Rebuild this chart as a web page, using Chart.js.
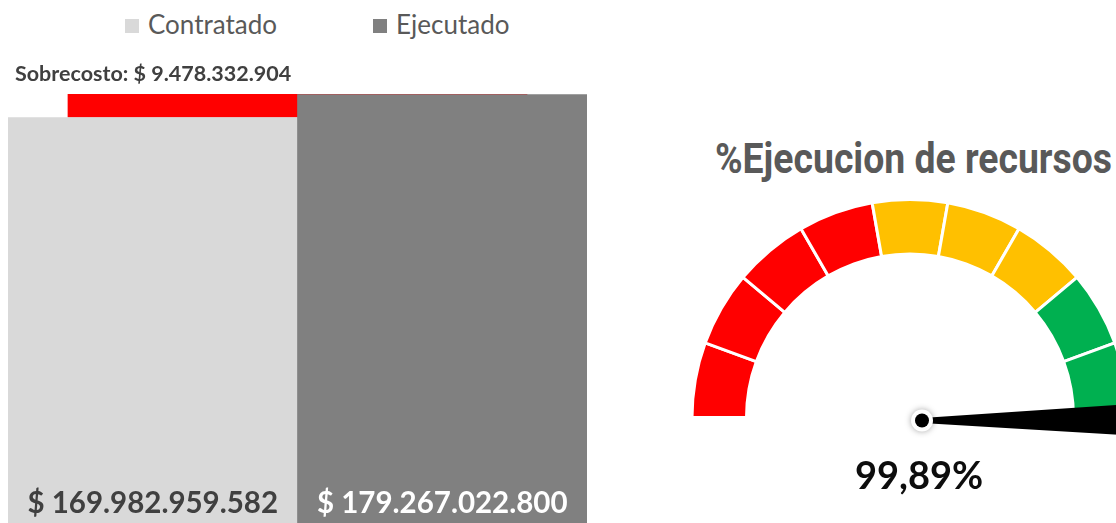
<!DOCTYPE html>
<html>
<head>
<meta charset="utf-8">
<script src="https://cdn.jsdelivr.net/npm/chart.js@4.4.1/dist/chart.umd.min.js"></script>
<style>
  html, body { margin: 0; padding: 0; width: 1116px; height: 523px; overflow: hidden; background: #fff; }
  #barChart { position: absolute; left: 0; top: 0; }
  #gauge { position: absolute; left: 689px; top: 189px; }
  #legend { position: absolute; left: 125px; top: 9px; display: flex; gap: 96px;
            font-family: Lato, sans-serif; font-size: 26px; color: #595959; line-height: 31px; }
  #legend .item { display: flex; align-items: center; }
  #legend .box { width: 14px; height: 14px; margin-right: 9px; margin-top: 2px; }
  #title { position: absolute; left: 715px; top: 138px; font-family: Roboto, sans-serif; font-weight: 700;
           font-size: 42px; line-height: 1; color: #595959; white-space: nowrap; transform-origin: left top; }
</style>
</head>
<body>
<div id="legend"></div>
<canvas id="barChart" width="600" height="545"></canvas>
<div id="title">%Ejecucion de recursos</div>
<canvas id="gauge" width="442" height="330"></canvas>
<script>
// datos
const categorias = ['Contratado', 'Ejecutado'];
const valores = [169982959582, 179267022800];
const sobrecosto = 9478332904;
const coloresBarras = ['#D9D9D9', '#808080'];

const tramos = ['0-20', '20-40', '40-60', '60-80', '80-100', '100-120', '120-140', '140-160', '160-180'];
const tramosValores = [1, 1, 1, 1, 1, 1, 1, 1, 1];
const tramosColores = ['#FF0000', '#FF0000', '#FF0000', '#FF0000', '#FFC000', '#FFC000', '#FFC000', '#00B050', '#00B050'];
const ejecucion = 99.89;

const miles = n => String(n).replace(/\B(?=(\d{3})+(?!\d))/g, '.');
const pct = v => v.toFixed(2).replace('.', ',') + '%';

// etiquetas de las barras
const etiquetasBarras = {
  id: 'etiquetasBarras',
  afterDatasetsDraw(chart) {
    const { ctx, chartArea } = chart;
    const barras = chart.getDatasetMeta(0).data;
    ctx.save();
    ctx.font = 'bold 29.5px Lato';
    ctx.textAlign = 'center';
    ctx.textBaseline = 'middle';
    valores.forEach((v, i) => {
      ctx.fillStyle = i === 0 ? '#404040' : '#FFFFFF';
      ctx.fillText('$ ' + miles(v), barras[i].x, chartArea.bottom - 36);
    });
    const rojo = chart.getDatasetMeta(1).data[0];
    ctx.font = 'bold 21.5px Lato';
    ctx.textAlign = 'left';
    ctx.textBaseline = 'alphabetic';
    ctx.fillStyle = '#404040';
    ctx.fillText('Sobrecosto: $ ' + miles(sobrecosto), chartArea.left + 7, rojo.y - 13);
    ctx.restore();
  }
};

new Chart(document.getElementById('barChart'), {
  type: 'bar',
  data: {
    labels: categorias,
    datasets: [
      { label: 'Valor', data: valores, backgroundColor: coloresBarras, order: 1 },
      { label: 'Sobrecosto', data: [{ x: 1, y: [valores[0], valores[0] + sobrecosto] }],
        backgroundColor: '#FF0000', xAxisID: 'x2', order: 2, barPercentage: 0.794 }
    ]
  },
  options: {
    responsive: false,
    animation: false,
    devicePixelRatio: 1,
    layout: { padding: { left: 8, right: 13, top: 68, bottom: 6 } },
    datasets: { bar: { categoryPercentage: 1, barPercentage: 1, grouped: false } },
    plugins: { legend: { display: false }, tooltip: { enabled: false } },
    scales: {
      x: { display: false },
      x2: { type: 'linear', display: false, position: 'bottom', min: 0, max: 2, offset: false,
            ticks: { stepSize: 2 } },
      y: { display: false, min: 0, max: 190e9 }
    }
  },
  plugins: [etiquetasBarras]
});

// leyenda
const leyenda = document.getElementById('legend');
categorias.forEach((c, i) => {
  const item = document.createElement('div');
  item.className = 'item';
  const box = document.createElement('span');
  box.className = 'box';
  box.style.background = coloresBarras[i];
  const txt = document.createElement('span');
  txt.textContent = c;
  item.appendChild(box);
  item.appendChild(txt);
  leyenda.appendChild(item);
});

// titulo ajustado al ancho
const titulo = document.getElementById('title');
titulo.style.transform = 'scaleX(' + (397 / titulo.getBoundingClientRect().width) + ')';

// aguja
const aguja = {
  id: 'aguja',
  afterDatasetsDraw(chart) {
    const arc = chart.getDatasetMeta(0).data[0];
    const { ctx } = chart;
    const ang = Math.PI * (1 + ejecucion / 100);
    const px = arc.x + 12, py = arc.y + 3;
    const len = arc.outerRadius + 10;
    const tx = px + Math.cos(ang) * len, ty = py + Math.sin(ang) * len;
    const nx = -Math.sin(ang), ny = Math.cos(ang);
    ctx.save();
    ctx.fillStyle = '#000';
    ctx.beginPath();
    ctx.moveTo(px + nx * 2.5, py + ny * 2.5);
    ctx.lineTo(tx + nx * 17, ty + ny * 17);
    ctx.lineTo(tx - nx * 17, ty - ny * 17);
    ctx.lineTo(px - nx * 2.5, py - ny * 2.5);
    ctx.closePath();
    ctx.fill();
    ctx.shadowColor = 'rgba(0,0,0,0.35)';
    ctx.shadowBlur = 6;
    ctx.fillStyle = '#FFFFFF';
    ctx.beginPath();
    ctx.arc(px, py, 11, 0, 2 * Math.PI);
    ctx.fill();
    ctx.shadowColor = 'transparent';
    ctx.fillStyle = '#000';
    ctx.beginPath();
    ctx.arc(px, py, 7, 0, 2 * Math.PI);
    ctx.fill();
    ctx.font = 'bold 38px Lato';
    ctx.textAlign = 'center';
    ctx.textBaseline = 'middle';
    ctx.fillStyle = '#0D0D0D';
    ctx.fillText(pct(ejecucion), px - 3, py + 56);
    ctx.restore();
  }
};

new Chart(document.getElementById('gauge'), {
  type: 'doughnut',
  data: {
    labels: tramos,
    datasets: [{ data: tramosValores, backgroundColor: tramosColores, borderColor: '#FFFFFF', borderWidth: 3 }]
  },
  options: {
    responsive: false,
    animation: false,
    devicePixelRatio: 1,
    rotation: -90,
    circumference: 180,
    cutout: '75%',
    layout: { padding: { top: 9, bottom: 100, left: 0, right: 0 } },
    plugins: { legend: { display: false }, tooltip: { enabled: false } }
  },
  plugins: [aguja]
});
</script>
</body>
</html>
